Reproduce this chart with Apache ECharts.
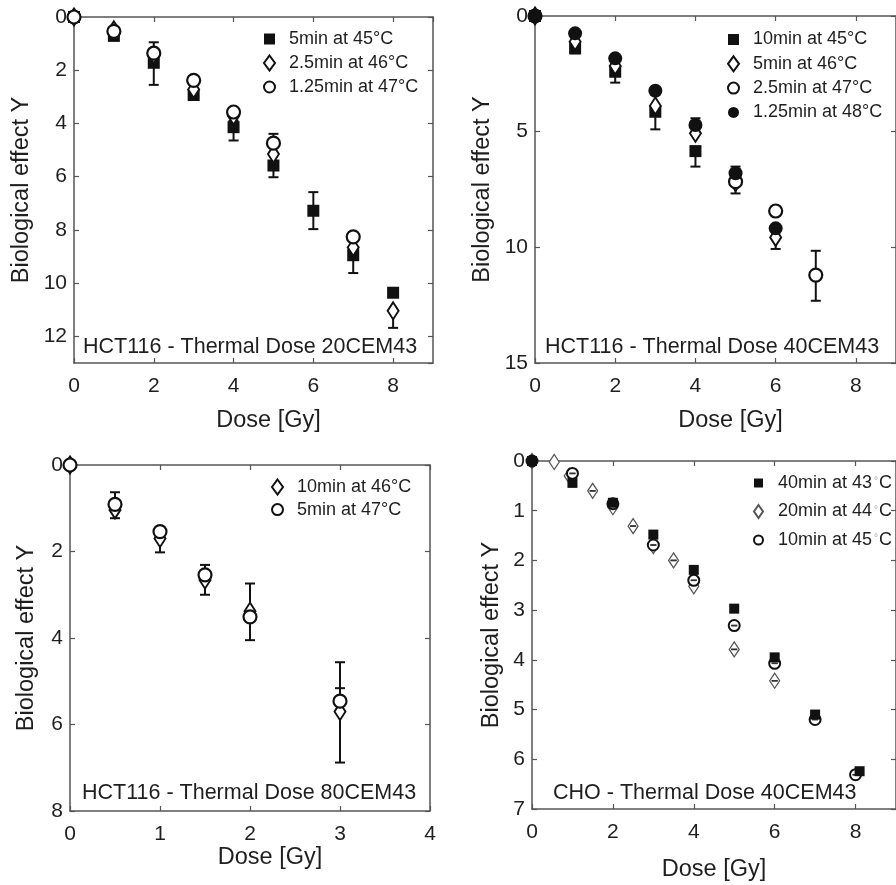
<!DOCTYPE html>
<html><head><meta charset="utf-8">
<script src="https://cdn.jsdelivr.net/npm/echarts@6/dist/echarts.min.js"></script>
<style>html,body{margin:0;padding:0;background:#fff}#c{width:896px;height:885px}</style>
</head><body><div id="c"></div>
<script>
// ---------- data ----------
const xName = 'Dose [Gy]';
const yName = 'Biological effect Y';

// Panel 1: HCT116 - 20CEM43
const p1Title = 'HCT116 - Thermal Dose 20CEM43';
const p1Labels = ['5min at 45°C', '2.5min at 46°C', '1.25min at 47°C'];
const p1SqX = [0, 1, 2, 3, 4, 5, 6, 7, 8];
const p1SqY = [0, 0.71, 1.72, 2.93, 4.14, 5.58, 7.28, 8.95, 10.36];
const p1DiX = [0, 1, 2, 3, 4, 5, 7, 8];
const p1DiY = [0, 0.48, 1.42, 2.72, 3.72, 5.15, 8.66, 11.04];
const p1CiX = [0, 1, 2, 3, 4, 5, 7];
const p1CiY = [0, 0.54, 1.36, 2.38, 3.57, 4.74, 8.26];
const p1Err = [[2, 0.95, 2.55], [4, 3.9, 4.64], [5, 4.39, 4.74], [5, 5.58, 6.02], [6, 6.58, 7.97], [7, 8.95, 9.62], [8, 11.04, 11.68]];

// Panel 2: HCT116 - 40CEM43
const p2Title = 'HCT116 - Thermal Dose 40CEM43';
const p2Labels = ['10min at 45°C', '5min at 46°C', '2.5min at 47°C', '1.25min at 48°C'];
const p2SqX = [0, 1, 2, 3, 4];
const p2SqY = [0, 1.4, 2.41, 4.14, 5.84];
const p2DiX = [0, 1, 2, 3, 4, 5, 6];
const p2DiY = [0, 1.11, 2.16, 3.89, 5.07, 7.2, 9.57];
const p2OcX = [0, 5, 6, 7];
const p2OcY = [0, 7.16, 8.43, 11.2];
const p2FcX = [0, 1, 2, 3, 4, 5, 6];
const p2FcY = [0, 0.75, 1.83, 3.23, 4.71, 6.8, 9.18];
const p2Err = [[1, 1.4, 1.61], [2, 2.41, 2.88], [3, 4.14, 4.9], [4, 4.42, 4.71], [4, 5.84, 6.51], [5, 6.51, 6.8], [5, 7.16, 7.67], [6, 8.24, 8.43], [6, 9.57, 10.07], [7, 10.15, 12.31]];

// Panel 3: HCT116 - 80CEM43
const p3Title = 'HCT116 - Thermal Dose 80CEM43';
const p3Labels = ['10min at 46°C', '5min at 47°C'];
const p3X = [0, 0.5, 1, 1.5, 2, 3];
const p3DiY = [0, 1.04, 1.7, 2.66, 3.38, 5.7];
const p3CiY = [0, 0.91, 1.54, 2.54, 3.51, 5.46];
const p3Err = [[0.5, 0.63, 1.23], [1, 1.43, 2.02], [1.5, 2.31, 3.0], [2, 2.74, 4.05], [3, 4.56, 6.88], [3, 5.16, 5.46]];

// Panel 4: CHO - 40CEM43
const p4Title = 'CHO - Thermal Dose 40CEM43';
const p4Labels = ['40min at 43{sup|°}C', '20min at 44{sup|°}C', '10min at 45{sup|°}C'];
const p4SqX = [0, 1, 2, 3, 4, 5, 6, 7, 8.1];
const p4SqY = [0, 0.44, 0.84, 1.48, 2.19, 2.97, 3.95, 5.1, 6.24];
const p4DiX = [0, 0.55, 0.92, 1.5, 2, 2.5, 3, 3.5, 4, 5, 6];
const p4DiY = [0, 0.02, 0.3, 0.6, 0.93, 1.31, 1.71, 2.0, 2.52, 3.79, 4.42];
const p4CiX = [0, 1, 2, 3, 4, 5, 6, 7, 8];
const p4CiY = [0, 0.25, 0.86, 1.69, 2.4, 3.31, 4.07, 5.2, 6.31];
const p4Err = [[1, 0.25, 0.25], [3, 1.69, 1.69], [4, 2.4, 2.4], [5, 3.31, 3.31], [6, 4.07, 4.07], [7, 5.2, 5.2], [8, 6.31, 6.31],
               [1.5, 0.6, 0.6], [2.5, 1.31, 1.31], [3.5, 2.0, 2.0], [5, 3.79, 3.79], [6, 4.42, 4.42]];

// ---------- styling / layout ----------
const FONT = "'Liberation Sans', Arial, Helvetica, sans-serif";
const TXT = '#1e1e1e';
const AX = '#555';
const zip = (xs, ys) => xs.map((x, i) => [x, ys[i]]);

const panels = [
  { grid: { left: 74, top: 17, width: 359, height: 346 }, x: [0, 9, 2], y: [0, 13, 2], showMaxX: false, showMaxY: false,
    xGap: 46, xShift: 30, yGap: 40, title: p1Title, tx: 83, ty: 347 },
  { grid: { left: 535, top: 16, width: 362, height: 347 }, x: [0, 9, 2], y: [0, 15, 5], showMaxX: false, showMaxY: true,
    xGap: 46, xShift: 30, yGap: 40, title: p2Title, tx: 545, ty: 347 },
  { grid: { left: 70, top: 465, width: 360, height: 346 }, x: [0, 4, 1], y: [0, 8, 2], showMaxX: true, showMaxY: true,
    xGap: 33, xShift: 40, yGap: 31, title: p3Title, tx: 82, ty: 793 },
  { grid: { left: 532, top: 461, width: 375, height: 348 }, x: [0, 9, 2], y: [0, 7, 1], showMaxX: false, showMaxY: true,
    xGap: 48.5, xShift: 0, yGap: 28.5, title: p4Title, tx: 553, ty: 793 }
];

const grids = [], xAxes = [], yAxes = [], graphics = [];
panels.forEach((p, i) => {
  grids.push(Object.assign({ containLabel: false }, p.grid));
  const common = {
    type: 'value', gridIndex: i, splitLine: { show: false },
    axisLine: { show: true, onZero: false, lineStyle: { color: AX, width: 1.5 } },
    axisTick: { show: true, inside: true, length: 5, lineStyle: { color: AX, width: 1.2 } }
  };
  xAxes.push(Object.assign({}, common, {
    position: 'bottom', min: p.x[0], max: p.x[1], interval: p.x[2],
    axisLabel: { fontSize: 21, fontFamily: FONT, color: TXT, margin: 13, showMaxLabel: p.showMaxX },
    name: xName, nameLocation: 'middle', nameGap: p.xGap,
    nameTextStyle: { fontSize: 23.5, fontFamily: FONT, color: TXT, padding: [0, 0, 0, p.xShift] }
  }));
  xAxes.push(Object.assign({}, common, {
    position: 'top', min: p.x[0], max: p.x[1], interval: p.x[2], axisLabel: { show: false }
  }));
  yAxes.push(Object.assign({}, common, {
    position: 'left', inverse: true, min: p.y[0], max: p.y[1], interval: p.y[2],
    axisLabel: { fontSize: 21, fontFamily: FONT, color: TXT, margin: 7, showMaxLabel: p.showMaxY },
    name: yName, nameLocation: 'middle', nameGap: p.yGap,
    nameTextStyle: { fontSize: 23.5, fontFamily: FONT, color: TXT }
  }));
  yAxes.push(Object.assign({}, common, {
    position: 'right', inverse: true, min: p.y[0], max: p.y[1], interval: p.y[2], axisLabel: { show: false }
  }));
  graphics.push({
    type: 'text', x: p.tx, y: p.ty, z: 100,
    style: { text: p.title, font: '21.5px ' + FONT, fill: TXT, verticalAlign: 'middle' }
  });
});

function errRender(capHalf, color, lw) {
  return function (params, api) {
    const x = api.value(0), lo = api.value(1), hi = api.value(2);
    const a = api.coord([x, lo]), b = api.coord([x, hi]);
    const style = { stroke: color, lineWidth: lw, fill: null };
    const ch = [];
    if (Math.abs(a[1] - b[1]) > 0.5) ch.push({ type: 'line', shape: { x1: a[0], y1: a[1], x2: b[0], y2: b[1] }, style });
    ch.push({ type: 'line', shape: { x1: a[0] - capHalf, y1: a[1], x2: a[0] + capHalf, y2: a[1] }, style });
    ch.push({ type: 'line', shape: { x1: b[0] - capHalf, y1: b[1], x2: b[0] + capHalf, y2: b[1] }, style });
    return { type: 'group', children: ch };
  };
}

const SQ = 'path://M0 0H10V10H0Z';
const open = (bw, bc) => ({ color: '#fff', borderColor: bc || '#111', borderWidth: bw, opacity: 1 });
const fill = { color: '#111', borderColor: '#111', borderWidth: 0, opacity: 1 };

function sc(name, i, data, symbol, size, itemStyle, z) {
  return { type: 'scatter', name, xAxisIndex: 2 * i, yAxisIndex: 2 * i, data, symbol, symbolSize: size,
    itemStyle, clip: false, z: z || 3, silent: true, animation: false };
}
function eb(i, data, capHalf, color, lw, z) {
  return { type: 'custom', xAxisIndex: 2 * i, yAxisIndex: 2 * i, data, renderItem: errRender(capHalf, color, lw),
    encode: { x: 0, y: [1, 2] }, clip: false, z: z || 2, silent: true, animation: false };
}

const LABEL = {
  a1: p1Labels[0], b1: p1Labels[1], c1: p1Labels[2],
  a2: p2Labels[0], b2: p2Labels[1], c2: p2Labels[2], d2: p2Labels[3],
  a3: p3Labels[0], b3: p3Labels[1],
  a4: p4Labels[0], b4: p4Labels[1], c4: p4Labels[2]
};

const series = [
  eb(0, p1Err, 5, '#111', 2),
  sc('a1', 0, zip(p1SqX, p1SqY), 'rect', 12, fill, 3),
  sc('b1', 0, zip(p1DiX, p1DiY), 'diamond', [11, 17], open(2), 4),
  sc('c1', 0, zip(p1CiX, p1CiY), 'circle', 13, open(2.2), 5),

  eb(1, p2Err, 5, '#111', 2),
  sc('a2', 1, zip(p2SqX, p2SqY), 'rect', 12, fill, 3),
  sc('b2', 1, zip(p2DiX, p2DiY), 'diamond', [11, 17], open(2), 4),
  sc('c2', 1, zip(p2OcX, p2OcY), 'circle', 13, open(2.2), 5),
  sc('d2', 1, zip(p2FcX, p2FcY), 'circle', 14, fill, 6),

  eb(2, p3Err, 5, '#111', 2),
  sc('a3', 2, zip(p3X, p3DiY), 'diamond', [11, 17], open(2), 4),
  sc('b3', 2, zip(p3X, p3CiY), 'circle', 13, open(2.2), 5),

  sc('b4', 3, zip(p4DiX, p4DiY), 'diamond', [10, 15], open(1.3, '#555'), 3),
  sc('c4', 3, zip(p4CiX, p4CiY), 'circle', 11, open(2), 4),
  eb(3, p4Err, 3, '#333', 1.5, 5),
  sc('a4', 3, zip(p4SqX, p4SqY), 'rect', 10, fill, 6)
];

const legText = (fs, lh, pad) => ({ fontSize: fs, fontFamily: FONT, color: TXT, lineHeight: lh, padding: [0, 0, 0, pad],
  rich: { sup: { fontSize: 10, lineHeight: 10, color: '#aaa', verticalAlign: 'top', padding: [0, 1, 0, 2] } } });
const fmt = n => LABEL[n];

const legends = [
  { left: 263, top: 30, itemWidth: 11, itemHeight: 15, itemGap: 6,
    data: [{ name: 'a1', icon: SQ }, { name: 'b1', icon: 'diamond' }, { name: 'c1', icon: 'circle' }], textStyle: legText(18, 15, 9) },
  { left: 727, top: 30.5, itemWidth: 11, itemHeight: 15, itemGap: 6.3,
    data: [{ name: 'a2', icon: SQ }, { name: 'b2', icon: 'diamond' }, { name: 'c2', icon: 'circle' }, { name: 'd2', icon: 'circle' }], textStyle: legText(18, 15, 9) },
  { left: 271, top: 478, itemWidth: 11, itemHeight: 15, itemGap: 4.6,
    data: [{ name: 'a3', icon: 'diamond' }, { name: 'b3', icon: 'circle' }], textStyle: legText(18, 15, 9) },
  { left: 753, top: 474, itemWidth: 9, itemHeight: 13, itemGap: 10.5,
    data: [{ name: 'a4', icon: SQ }, { name: 'b4', icon: 'diamond' }, { name: 'c4', icon: 'circle' }], textStyle: legText(18, 13, 10) }
].map(l => Object.assign({ orient: 'vertical', selectedMode: false, formatter: fmt, padding: 0 }, l));

const chart = echarts.init(document.getElementById('c'), null, { renderer: 'canvas' });
chart.setOption({
  backgroundColor: '#fff',
  animation: false,
  grid: grids, xAxis: xAxes, yAxis: yAxes,
  legend: legends, series, graphic: graphics
});
</script></body></html>
